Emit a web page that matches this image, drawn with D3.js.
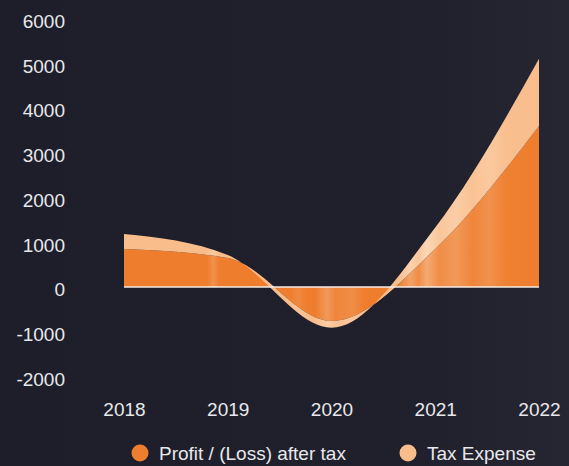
<!DOCTYPE html>
<html>
<head>
<meta charset="utf-8">
<script src="https://cdn.jsdelivr.net/npm/d3@7"></script>
<style>
  html, body { margin: 0; padding: 0; background: #1e1f2a; }
  svg { display: block; font-family: "Liberation Sans", "DejaVu Sans", sans-serif; }
</style>
</head>
<body>
<div id="chart"></div>
<script>
// chart values
var years = ["2018", "2019", "2020", "2021", "2022"];
var profit = [850, 650, -760, 850, 3600];
var tax = [335, 65, -150, 480, 1500];
var seriesNames = ["Profit / (Loss) after tax", "Tax Expense"];
var yTicks = [-2000, -1000, 0, 1000, 2000, 3000, 4000, 5000, 6000];

var width = 569, height = 466;
var colors = ["#ee7d2d", "#f9bd8b"];

var svg = d3.select("#chart")
  .append("svg")
  .attr("width", width)
  .attr("height", height);

var defs = svg.append("defs");

// background
var bg = defs.append("linearGradient").attr("id", "bg")
  .attr("x1", "0%").attr("y1", "0%").attr("x2", "100%").attr("y2", "0%");
bg.append("stop").attr("offset", "0%").attr("stop-color", "#1d1e29");
bg.append("stop").attr("offset", "70%").attr("stop-color", "#1f202b");
bg.append("stop").attr("offset", "100%").attr("stop-color", "#252631");
svg.append("rect").attr("width", width).attr("height", height).attr("fill", "url(#bg)");

// scales
var x = d3.scalePoint().domain(years).range([124, 539]);
var y = d3.scaleLinear().domain([-2000, 6000]).range([376.5, 18.5]);

// streaky fills
var streaks = [
  [0, 0], [0.2, 0], [0.215, 0.25], [0.23, 0], [0.4, 0], [0.42, 0.15], [0.44, 0],
  [0.46, 0], [0.49, 0.35], [0.51, 0.1], [0.55, 0.2], [0.58, 0],
  [0.66, 0], [0.69, 0.45], [0.71, 0.2], [0.73, 0.55], [0.76, 0.2], [0.8, 0.35],
  [0.84, 0.1], [0.88, 0.25], [0.92, 0.05], [1, 0]
];
colors.forEach(function(c, i) {
  var g = defs.append("linearGradient").attr("id", "fill" + i)
    .attr("gradientUnits", "userSpaceOnUse")
    .attr("x1", 124).attr("x2", 539).attr("y1", 0).attr("y2", 0);
  streaks.forEach(function(s) {
    g.append("stop").attr("offset", s[0])
      .attr("stop-color", d3.interpolateRgb(c, "#fff1e2")(s[1] * (i ? 0.9 : 0.7)));
  });
});

// stacked rows: profit from zero, tax on top of profit
var rows = years.map(function(yr, i) {
  return {year: yr, base: 0, profit: profit[i], total: profit[i] + tax[i]};
});
var layers = [["base", "profit"], ["profit", "total"]];

svg.selectAll(".layer")
  .data(layers)
  .enter().append("path")
  .attr("class", "layer")
  .attr("d", function(k) {
    return d3.area()
      .curve(d3.curveMonotoneX)
      .x(function(d) { return x(d.year); })
      .y0(function(d) { return y(d[k[0]]); })
      .y1(function(d) { return y(d[k[1]]); })(rows);
  })
  .attr("fill", function(d, i) { return "url(#fill" + i + ")"; });

// zero line
svg.append("line")
  .attr("x1", x.range()[0]).attr("x2", x.range()[1])
  .attr("y1", y(0)).attr("y2", y(0))
  .attr("stroke", "#f3ece6").attr("stroke-width", 1.6);

// y axis labels (plain hyphen for negatives)
var yAxis = svg.append("g")
  .attr("transform", "translate(65,0)")
  .call(d3.axisLeft(y).tickValues(yTicks).tickFormat(function(d) { return String(d); })
    .tickSize(0).tickPadding(0));
yAxis.select(".domain").remove();
yAxis.selectAll("text")
  .attr("fill", "#e8e8ec").attr("font-size", 19).attr("dy", "0.36em")
  .attr("transform", "translate(0,2)");

// x axis labels
var xAxis = svg.append("g")
  .attr("transform", "translate(0,402)")
  .call(d3.axisBottom(x).tickSize(0).tickPadding(0));
xAxis.select(".domain").remove();
xAxis.selectAll("text")
  .attr("fill", "#e8e8ec").attr("font-size", 19).attr("dy", "0.71em");

// legend
var legendX = [140, 408];
var legend = svg.selectAll(".legend")
  .data(seriesNames)
  .enter().append("g")
  .attr("class", "legend")
  .attr("transform", function(d, i) { return "translate(" + legendX[i] + ",453)"; });
legend.append("circle").attr("r", 8.5).attr("fill", function(d, i) { return colors[i]; });
legend.append("text")
  .attr("x", 19).attr("dy", "0.36em")
  .attr("fill", "#e8e8ec").attr("font-size", 19)
  .text(function(d) { return d; });
</script>
</body>
</html>
